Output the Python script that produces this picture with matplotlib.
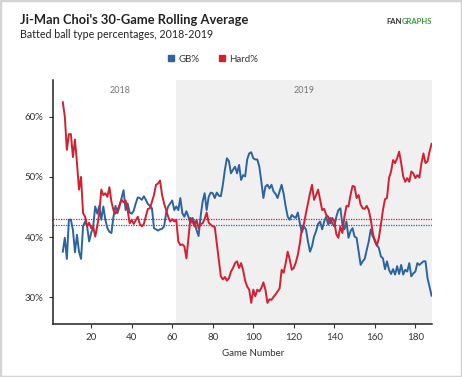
import matplotlib
matplotlib.use('Agg')
from matplotlib import pyplot as plt
from matplotlib.patches import Rectangle
from matplotlib.lines import Line2D

plt.rcParams['font.family'] = ['Lato', 'DejaVu Sans']

games = list(range(6, 189))

gb_pct = [
    37.6, 39.9, 36.4, 42.9, 42.9, 41.2, 37.5, 40.4, 37.6, 36.4,
    41.8, 42.6, 41.8, 39.3, 40.7, 41.8, 45.1, 43.9, 45.2, 42.9,
    45.1, 42.9, 41.5, 40.9, 40.7, 43.4, 45.2, 44.0, 45.1, 46.5,
    47.8, 44.5, 45.6, 44.1, 43.9, 44.4, 45.6, 46.6, 46.5, 46.2,
    46.8, 46.2, 45.5, 45.2, 44.8, 41.5, 41.3, 41.1, 41.3, 41.4,
    41.8, 44.0, 45.1, 45.6, 46.1, 44.5, 45.1, 44.5, 46.5, 44.0,
    43.4, 44.3, 43.4, 42.3, 43.2, 42.4, 41.2, 40.2, 43.4, 45.9,
    47.3, 44.5, 46.7, 47.4, 47.3, 46.5, 47.4, 46.9, 46.8, 48.7,
    51.2, 53.1, 52.6, 50.6, 51.2, 51.7, 50.6, 52.0, 49.5, 50.3,
    50.1, 52.9, 53.9, 54.1, 53.1, 52.9, 52.9, 51.7, 49.2, 46.5,
    48.4, 48.7, 48.1, 48.7, 47.6, 47.2, 46.5, 47.6, 48.7, 47.2,
    45.1, 43.4, 42.9, 43.7, 43.4, 43.2, 44.1, 42.3, 40.8, 41.8,
    41.3, 39.3, 37.6, 38.5, 40.1, 41.0, 42.2, 42.6, 41.3, 42.6,
    43.4, 42.1, 43.2, 42.3, 41.8, 43.4, 44.5, 44.8, 42.1, 41.3,
    42.6, 39.9, 41.0, 41.5, 40.1, 39.9, 37.6, 35.4, 36.0, 36.4,
    37.9, 39.3, 41.3, 40.1, 39.6, 38.7, 38.2, 36.8, 36.5, 34.7,
    36.0, 34.6, 33.9, 34.7, 33.8, 35.2, 33.9, 35.4, 33.8, 34.6,
    34.3, 35.7, 33.5, 34.0, 34.3, 35.7, 35.4, 35.7, 36.0, 36.0,
    33.2, 31.8, 30.3,
]

hard_pct = [
    62.4, 60.0, 54.5, 57.1, 57.1, 53.3, 56.2, 52.3, 47.9, 50.0,
    44.0, 43.4, 41.8, 42.4, 41.5, 41.8, 40.1, 41.8, 44.0, 47.9,
    47.0, 47.3, 46.7, 48.3, 45.9, 44.5, 43.9, 44.5, 45.4, 46.2,
    45.8, 46.1, 44.5, 42.3, 42.9, 42.2, 42.8, 43.4, 42.2, 41.8,
    42.2, 43.5, 44.7, 44.8, 45.9, 47.0, 48.7, 48.9, 49.4, 47.0,
    45.6, 44.5, 43.4, 42.6, 43.0, 42.6, 42.9, 39.3, 38.7, 38.8,
    38.5, 36.5, 39.8, 43.2, 42.6, 41.8, 42.9, 41.5, 42.2, 42.3,
    43.0, 44.1, 42.4, 42.1, 41.8, 41.7, 39.0, 36.3, 33.5, 33.0,
    33.4, 32.8, 33.2, 34.3, 34.9, 35.7, 36.0, 34.9, 35.7, 34.5,
    32.8, 31.8, 31.3, 29.1, 31.3, 30.2, 31.3, 31.0, 31.6, 32.5,
    31.3, 29.1, 29.7, 29.6, 30.1, 30.5, 31.0, 31.5, 34.6, 34.1,
    35.7, 37.6, 36.3, 34.6, 34.9, 35.8, 37.1, 39.0, 41.5, 42.2,
    44.0, 45.6, 47.3, 48.7, 46.2, 47.0, 47.9, 46.2, 44.5, 44.7,
    43.7, 43.4, 42.3, 43.2, 42.6, 40.5, 39.9, 41.8, 40.7, 43.4,
    45.2, 45.1, 47.0, 48.5, 48.4, 46.5, 47.0, 45.4, 44.8, 44.7,
    45.2, 44.5, 42.9, 40.7, 39.3, 38.6, 39.9, 42.1, 44.5, 46.3,
    46.5, 49.8, 50.9, 52.8, 52.3, 53.1, 54.2, 52.3, 50.1, 49.2,
    49.8, 49.2, 50.9, 50.6, 49.8, 50.3, 49.9, 52.3, 53.9, 52.3,
    52.6, 54.2, 55.5,
]

gb_avg = 42.1
hard_avg = 43.05
season_split = 62
year_labels = ['2018', '2019']

blue = '#2c64a0'
red = '#d41f31'
text_col = '#333333'

fig = plt.figure(figsize=(4.62, 3.77), dpi=100)
fig.patches.append(Rectangle((0, 0), 1, 1, transform=fig.transFigure,
                             fill=False, edgecolor='#d4d4d4', lw=2.5))

ax = fig.add_axes([0.114, 0.1406, 0.821, 0.6474])
ax.axvspan(season_split, 188.2, color='#f0f0f0', lw=0, zorder=0)
ax.axhline(hard_avg, color=red, ls=(0, (1, 1)), lw=0.9)
ax.axhline(gb_avg, color=blue, ls=(0, (1, 1)), lw=0.9)
ax.plot(games, gb_pct, color=blue, lw=1.4)
ax.plot(games, hard_pct, color=red, lw=1.4)

ax.set_xlim(1, 188.2)
ax.set_ylim(25.6, 66.1)
ax.set_xticks(range(20, 181, 20))
ax.set_yticks([30, 40, 50, 60])
ax.set_yticklabels([f'{v}%' for v in [30, 40, 50, 60]])
ax.tick_params(labelsize=7, colors=text_col, length=3, width=0.8)
for s in ['top', 'right']:
    ax.spines[s].set_visible(False)
for s in ['left', 'bottom']:
    ax.spines[s].set_color('#222222')
    ax.spines[s].set_linewidth(1.1)

ax.text((6 + season_split) / 2, 64.3, year_labels[0], ha='center', va='center',
        fontsize=6.5, color='#777777')
ax.text((season_split + 188) / 2, 64.3, year_labels[1], ha='center', va='center',
        fontsize=6.5, color='#777777')

fig.text(253 / 462, 1 - 354 / 377, 'Game Number', ha='center', va='center',
         fontsize=7, color=text_col)

fig.text(20 / 462, 1 - 20 / 377, "Ji-Man Choi's 30-Game Rolling Average",
         fontsize=9.3, fontweight='bold', color='#222222', va='center')
fig.text(20 / 462, 1 - 35 / 377, 'Batted ball type percentages, 2018-2019',
         fontsize=7.7, color='#222222', va='center')

fig.text(402 / 462, 1 - 22 / 377, 'FAN', fontsize=5.5, fontweight='bold',
         color='#333333', va='center', ha='right')
fig.text(402 / 462, 1 - 22 / 377, 'GRAPHS', fontsize=5.5, fontweight='bold',
         color='#3b9b3b', va='center', ha='left')

handles = [Line2D([], [], ls='', marker='s', markersize=4.5, color=blue),
           Line2D([], [], ls='', marker='s', markersize=4.5, color=red)]
leg = ax.legend(handles, ['GB%', 'Hard%'], loc='center',
                bbox_to_anchor=(213 / 462, 1 - 59 / 377),
                bbox_transform=fig.transFigure, ncol=2, frameon=False,
                fontsize=7, handlelength=0.6, handletextpad=0.5,
                columnspacing=2.0)
for t in leg.get_texts():
    t.set_color(text_col)

plt.savefig('out.png', dpi=100)
